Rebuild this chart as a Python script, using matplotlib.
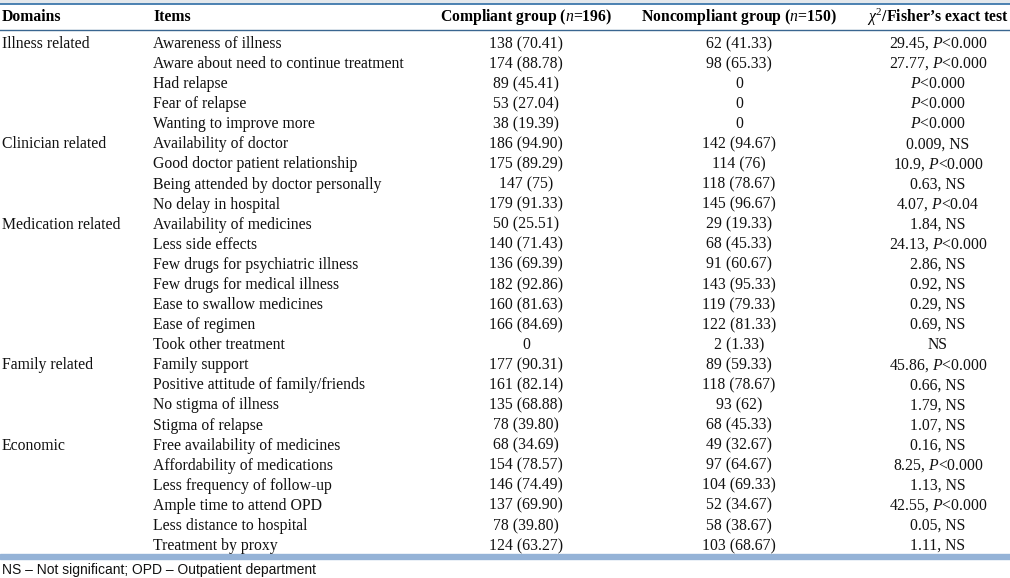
import matplotlib.pyplot as plt

plt.rcParams['mathtext.fontset'] = 'custom'
plt.rcParams['mathtext.rm'] = 'Liberation Serif'
plt.rcParams['mathtext.it'] = 'Liberation Serif:italic'
plt.rcParams['mathtext.bf'] = 'Liberation Serif:bold'

# Table content
headers = ['Domains', 'Items', 'Compliant group ($n$=196)',
           'Noncompliant group ($n$=150)', '$\\chi^2$/Fisher\u2019s exact test']

domains = ['Illness related', 'Clinician related', 'Medication related',
           'Family related', 'Economic']

items = [
    ['Awareness of illness', 'Aware about need to continue treatment', 'Had relapse',
     'Fear of relapse', 'Wanting to improve more'],
    ['Availability of doctor', 'Good doctor patient relationship',
     'Being attended by doctor personally', 'No delay in hospital'],
    ['Availability of medicines', 'Less side effects', 'Few drugs for psychiatric illness',
     'Few drugs for medical illness', 'Ease to swallow medicines', 'Ease of regimen',
     'Took other treatment'],
    ['Family support', 'Positive attitude of family/friends', 'No stigma of illness',
     'Stigma of relapse'],
    ['Free availability of medicines', 'Affordability of medications',
     'Less frequency of follow-up', 'Ample time to attend OPD', 'Less distance to hospital',
     'Treatment by proxy'],
]

compliant = [
    ['138 (70.41)', '174 (88.78)', '89 (45.41)', '53 (27.04)', '38 (19.39)'],
    ['186 (94.90)', '175 (89.29)', '147 (75)', '179 (91.33)'],
    ['50 (25.51)', '140 (71.43)', '136 (69.39)', '182 (92.86)', '160 (81.63)',
     '166 (84.69)', '0'],
    ['177 (90.31)', '161 (82.14)', '135 (68.88)', '78 (39.80)'],
    ['68 (34.69)', '154 (78.57)', '146 (74.49)', '137 (69.90)', '78 (39.80)',
     '124 (63.27)'],
]

noncompliant = [
    ['62 (41.33)', '98 (65.33)', '0', '0', '0'],
    ['142 (94.67)', '114 (76)', '118 (78.67)', '145 (96.67)'],
    ['29 (19.33)', '68 (45.33)', '91 (60.67)', '143 (95.33)', '119 (79.33)',
     '122 (81.33)', '2 (1.33)'],
    ['89 (59.33)', '118 (78.67)', '93 (62)', '68 (45.33)'],
    ['49 (32.67)', '97 (64.67)', '104 (69.33)', '52 (34.67)', '58 (38.67)',
     '103 (68.67)'],
]

tests = [
    ['29.45, $P$<0.000', '27.77, $P$<0.000', '$P$<0.000', '$P$<0.000', '$P$<0.000'],
    ['0.009, NS', '10.9, $P$<0.000', '0.63, NS', '4.07, $P$<0.04'],
    ['1.84, NS', '24.13, $P$<0.000', '2.86, NS', '0.92, NS', '0.29, NS', '0.69, NS', 'NS'],
    ['45.86, $P$<0.000', '0.66, NS', '1.79, NS', '1.07, NS'],
    ['0.16, NS', '8.25, $P$<0.000', '1.13, NS', '42.55, $P$<0.000', '0.05, NS', '1.11, NS'],
]

footnote = 'NS \u2013 Not significant; OPD \u2013 Outpatient department'

# layout (pixel coordinates)
W, H = 1010, 578
col_x = [2, 153, 526, 739, 938]
col_ha = ['left', 'left', 'center', 'center', 'center']
header_y = 17
row0_y = 44
row_h = 20.08
fs = 11.3

fig = plt.figure(figsize=(W / 100, H / 100), dpi=100)
ax = fig.add_axes([0, 0, 1, 1])
ax.set_xlim(0, W)
ax.set_ylim(H, 0)
ax.axis('off')

# rules
ax.axhspan(0, 2.5, color='#e4e8ec')
ax.axhline(3.5, color='#2f6ea6', lw=1.2)
ax.axhline(29.5, color='#3a6690', lw=1.0)
ax.axhspan(554, 558.5, color='#95b3d7')

for x, ha, h in zip(col_x, col_ha, headers):
    ax.text(x, header_y, h, ha=ha, va='center', fontsize=fs,
            fontfamily='Liberation Serif', fontweight='bold')

r = 0
for g in range(len(domains)):
    for k in range(len(items[g])):
        y = row0_y + r * row_h
        cells = [domains[g] if k == 0 else '', items[g][k], compliant[g][k],
                 noncompliant[g][k], tests[g][k]]
        for x, ha, c in zip(col_x, col_ha, cells):
            if c:
                ax.text(x, y, c, ha=ha, va='center', fontsize=fs,
                        fontfamily='Liberation Serif', color='#111111')
        r += 1

ax.text(2, 570, footnote, ha='left', va='center', fontsize=10,
        fontfamily='Liberation Sans', color='#111111')

fig.savefig('out.png', dpi=100)
